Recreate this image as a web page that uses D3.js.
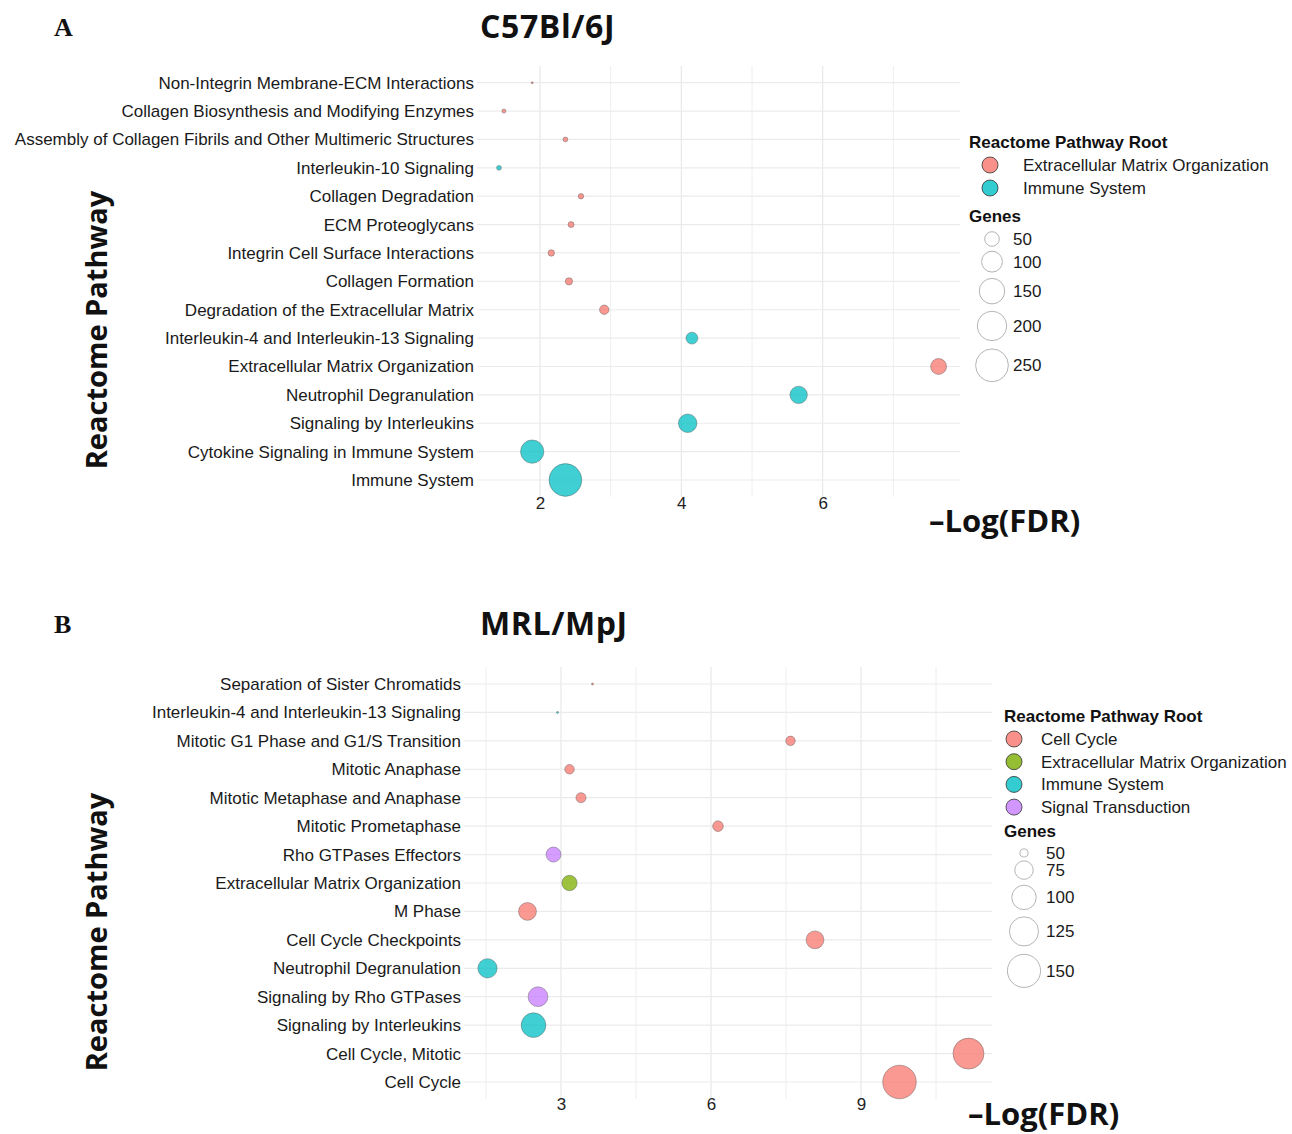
<!DOCTYPE html>
<html>
<head>
<meta charset="utf-8">
<script src="https://cdn.jsdelivr.net/npm/d3@7"></script>
<style>
  body { margin: 0; background: #fff; }
  svg { display: block; }
</style>
</head>
<body>
<svg id="chart" width="1292" height="1134"></svg>
<script>
// ---- Panel A: C57Bl/6J ----
const pathwaysC57 = [
  "Non-Integrin Membrane-ECM Interactions",
  "Collagen Biosynthesis and Modifying Enzymes",
  "Assembly of Collagen Fibrils and Other Multimeric Structures",
  "Interleukin-10 Signaling",
  "Collagen Degradation",
  "ECM Proteoglycans",
  "Integrin Cell Surface Interactions",
  "Collagen Formation",
  "Degradation of the Extracellular Matrix",
  "Interleukin-4 and Interleukin-13 Signaling",
  "Extracellular Matrix Organization",
  "Neutrophil Degranulation",
  "Signaling by Interleukins",
  "Cytokine Signaling in Immune System",
  "Immune System"
];
const logFdrC57 = [1.89, 1.49, 2.36, 1.42, 2.58, 2.44, 2.16, 2.41, 2.91, 4.15, 7.64, 5.66, 4.09, 1.89, 2.36];
const genesC57 = [10, 11, 12, 12, 13, 14, 15, 17, 24, 35, 59, 70, 79, 125, 250];
const rootC57 = [
  "Extracellular Matrix Organization", "Extracellular Matrix Organization",
  "Extracellular Matrix Organization", "Immune System",
  "Extracellular Matrix Organization", "Extracellular Matrix Organization",
  "Extracellular Matrix Organization", "Extracellular Matrix Organization",
  "Extracellular Matrix Organization", "Immune System",
  "Extracellular Matrix Organization", "Immune System",
  "Immune System", "Immune System", "Immune System"
];
const rootLevelsC57 = ["Extracellular Matrix Organization", "Immune System"];
const rootColorsC57 = ["#F8766D", "#00BFC4"];
const geneBreaksC57 = [50, 100, 150, 200, 250];
const xTicksC57 = [2, 4, 6];
const xMinorC57 = [3, 5, 7];

// ---- Panel B: MRL/MpJ ----
const pathwaysMRL = [
  "Separation of Sister Chromatids",
  "Interleukin-4 and Interleukin-13 Signaling",
  "Mitotic G1 Phase and G1/S Transition",
  "Mitotic Anaphase",
  "Mitotic Metaphase and Anaphase",
  "Mitotic Prometaphase",
  "Rho GTPases Effectors",
  "Extracellular Matrix Organization",
  "M Phase",
  "Cell Cycle Checkpoints",
  "Neutrophil Degranulation",
  "Signaling by Rho GTPases",
  "Signaling by Interleukins",
  "Cell Cycle, Mitotic",
  "Cell Cycle"
];
const logFdrMRL = [3.63, 2.93, 7.59, 3.17, 3.40, 6.14, 2.85, 3.17, 2.33, 8.08, 1.53, 2.54, 2.45, 11.15, 9.77];
const genesMRL = [46, 46, 52, 52, 53, 54, 64, 65, 73, 73, 78, 80, 101, 136, 153];
const rootMRL = [
  "Cell Cycle", "Immune System", "Cell Cycle", "Cell Cycle", "Cell Cycle", "Cell Cycle",
  "Signal Transduction", "Extracellular Matrix Organization", "Cell Cycle", "Cell Cycle",
  "Immune System", "Signal Transduction", "Immune System", "Cell Cycle", "Cell Cycle"
];
const rootLevelsMRL = ["Cell Cycle", "Extracellular Matrix Organization", "Immune System", "Signal Transduction"];
const rootColorsMRL = ["#F8766D", "#7CAE00", "#00BFC4", "#C77CFF"];
const geneBreaksMRL = [50, 75, 100, 125, 150];
const xTicksMRL = [3, 6, 9];
const xMinorMRL = [1.5, 4.5, 7.5, 10.5];

const svg = d3.select("#chart");
const SANS = "'Liberation Sans', Arial, sans-serif";
const HEAD = "'Open Sans', 'Noto Sans', sans-serif";

function drawPanel(p) {
  const g = svg.append("g");
  const x = d3.scaleLinear().domain(p.xDomain).range([p.left, p.right]);
  const y = d3.scalePoint().domain(p.pathways).range([p.firstRow, p.lastRow]);
  const color = d3.scaleOrdinal().domain(p.rootLevels).range(p.rootColors);

  // ggplot-style area scaling: sqrt of the rescaled value mapped to a radius range
  const norm = d3.scaleLinear().domain(d3.extent(p.genes)).range([0, 1]).clamp(true);
  const radius = d3.scaleLinear().domain([0, 1]).range([1, p.rMax]);
  const r = v => radius(Math.sqrt(norm(v)));

  // grid
  const grid = g.append("g");
  grid.selectAll("line.minor").data(p.xMinor).join("line")
    .attr("x1", d => x(d)).attr("x2", d => x(d))
    .attr("y1", p.top).attr("y2", p.bottom)
    .attr("stroke", "#eeeeee").attr("stroke-width", 1);
  grid.selectAll("line.major").data(p.xTicks).join("line")
    .attr("x1", d => x(d)).attr("x2", d => x(d))
    .attr("y1", p.top).attr("y2", p.bottom)
    .attr("stroke", "#e6e6e6").attr("stroke-width", 1.1);
  grid.selectAll("line.row").data(p.pathways).join("line")
    .attr("x1", p.left).attr("x2", p.right)
    .attr("y1", d => y(d)).attr("y2", d => y(d))
    .attr("stroke", "#ebebeb").attr("stroke-width", 1.2);

  // axes
  const yAxis = g.append("g").attr("transform", `translate(${p.left},0)`)
    .call(d3.axisLeft(y).tickSize(0).tickPadding(3));
  yAxis.select(".domain").remove();
  yAxis.selectAll("text").attr("font-family", SANS).attr("font-size", 17).attr("fill", "#1a1a1a");

  const xAxis = g.append("g").attr("transform", `translate(0,${p.bottom})`)
    .call(d3.axisBottom(x).tickValues(p.xTicks).tickFormat(d3.format("d"))
      .tickSize(0).tickPadding(p.tickPad));
  xAxis.select(".domain").remove();
  xAxis.selectAll("text").attr("font-family", SANS).attr("font-size", 17).attr("fill", "#222");

  // points
  const rows = p.pathways.map((name, i) => ({ name, fdr: p.fdr[i], genes: p.genes[i], root: p.root[i] }));
  g.append("g").selectAll("circle").data(rows).join("circle")
    .attr("cx", d => x(d.fdr)).attr("cy", d => y(d.name)).attr("r", d => r(d.genes))
    .attr("fill", d => color(d.root)).attr("fill-opacity", 0.75)
    .attr("stroke", "#555").attr("stroke-opacity", 0.6).attr("stroke-width", 0.7);

  // titles
  g.append("text").attr("x", p.letterX).attr("y", p.letterY).text(p.letter)
    .attr("font-family", "'Liberation Serif', 'DejaVu Serif', serif").attr("font-weight", 700)
    .attr("font-size", 26).attr("fill", "#111");
  g.append("text").attr("x", p.titleX).attr("y", p.titleY).text(p.title)
    .attr("font-family", HEAD).attr("font-weight", 700).attr("font-size", 32)
    .attr("letter-spacing", 0.6).attr("fill", "#111");
  g.append("text").attr("transform", `translate(${p.yTitleX},${p.yTitleY}) rotate(-90)`)
    .attr("text-anchor", "middle").text("Reactome Pathway")
    .attr("font-family", HEAD).attr("font-weight", 700).attr("font-size", 29).attr("fill", "#111");
  g.append("text").attr("x", p.xTitleX).attr("y", p.xTitleY).text("\u2013Log(FDR)")
    .attr("font-family", HEAD).attr("font-weight", 700).attr("font-size", 31).attr("fill", "#111");

  // legend: pathway root
  const lg = g.append("g").attr("transform", `translate(${p.legX},${p.legY})`);
  lg.append("text").attr("x", 0).attr("y", 0).text("Reactome Pathway Root")
    .attr("font-family", SANS).attr("font-weight", 700).attr("font-size", 17).attr("fill", "#111");
  const keys = lg.selectAll("g.key").data(p.rootLevels).join("g")
    .attr("transform", (d, i) => `translate(0,${17 + i * p.keyStep})`);
  keys.append("circle").attr("cx", p.keyCx).attr("cy", 0).attr("r", 8)
    .attr("fill", d => color(d)).attr("fill-opacity", 0.8)
    .attr("stroke", "#333").attr("stroke-width", 0.8);
  keys.append("text").attr("x", p.keyTx).attr("y", 6).text(d => d)
    .attr("font-family", SANS).attr("font-size", 17).attr("fill", "#1a1a1a");

  // legend: gene count sizes
  const sg = g.append("g").attr("transform", `translate(${p.legX},${p.sizeY})`);
  sg.append("text").attr("x", 0).attr("y", 0).text("Genes")
    .attr("font-family", SANS).attr("font-weight", 700).attr("font-size", 17).attr("fill", "#111");
  let cy = p.sizeFirst;
  const sizeKeys = p.geneBreaks.map((v, i) => {
    if (i > 0) cy += 1.25 * (r(p.geneBreaks[i - 1]) + r(v)) + 0.5;
    return { v, cy };
  });
  sg.selectAll("circle").data(sizeKeys).join("circle")
    .attr("cx", p.sizeCx).attr("cy", d => d.cy).attr("r", d => r(d.v))
    .attr("fill", "#fff").attr("stroke", "#b5b5b5").attr("stroke-width", 1);
  sg.selectAll("text.lab").data(sizeKeys).join("text")
    .attr("x", p.sizeTx).attr("y", d => d.cy + 6).text(d => d.v)
    .attr("font-family", SANS).attr("font-size", 17).attr("fill", "#1a1a1a");
}

drawPanel({
  letter: "A", title: "C57Bl/6J",
  pathways: pathwaysC57, fdr: logFdrC57, genes: genesC57, root: rootC57,
  rootLevels: rootLevelsC57, rootColors: rootColorsC57, geneBreaks: geneBreaksC57,
  xTicks: xTicksC57, xMinor: xMinorC57, xDomain: [1.109, 7.943], rMax: 16.4,
  left: 477, right: 960, top: 66, bottom: 497, firstRow: 82.7, lastRow: 480, tickPad: 0,
  letterX: 54, letterY: 36, titleX: 480, titleY: 38,
  yTitleX: 107, yTitleY: 330, xTitleX: 929, xTitleY: 532,
  legX: 969, legY: 148, keyCx: 21, keyTx: 54, keyStep: 23,
  sizeY: 222, sizeFirst: 17, sizeCx: 23, sizeTx: 44
});

drawPanel({
  letter: "B", title: "MRL/MpJ",
  pathways: pathwaysMRL, fdr: logFdrMRL, genes: genesMRL, root: rootMRL,
  rootLevels: rootLevelsMRL, rootColors: rootColorsMRL, geneBreaks: geneBreaksMRL,
  xTicks: xTicksMRL, xMinor: xMinorMRL, xDomain: [1.06, 11.62], rMax: 16.8,
  left: 464, right: 992, top: 667, bottom: 1099, firstRow: 684, lastRow: 1082, tickPad: -1,
  letterX: 54, letterY: 633, titleX: 480, titleY: 635,
  yTitleX: 107, yTitleY: 932, xTitleX: 968, xTitleY: 1125,
  legX: 1004, legY: 722, keyCx: 10, keyTx: 37, keyStep: 22.7,
  sizeY: 837, sizeFirst: 16, sizeCx: 20, sizeTx: 42
});
</script>
</body>
</html>
